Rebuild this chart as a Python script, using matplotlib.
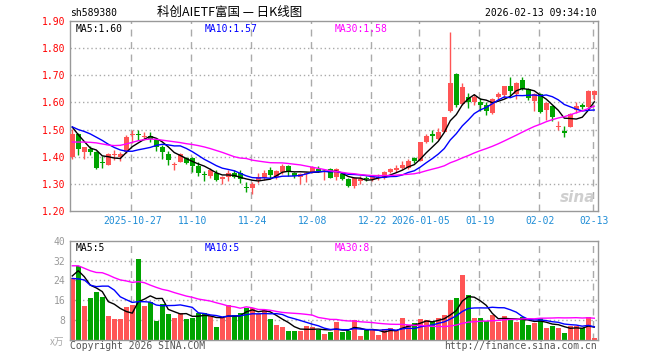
import numpy as np
import pandas as pd
import matplotlib
matplotlib.use('Agg')
import matplotlib.pyplot as plt

plt.rcParams['font.family'] = ['DejaVu Sans Mono', 'Noto Sans CJK SC']

# trading days 2025-10-13 .. 2026-02-13 (New Year closed 01-01, 01-02)
dates = pd.bdate_range('2025-10-13', '2026-02-13')
dates = dates[~dates.isin(pd.to_datetime(['2026-01-01', '2026-01-02']))]

tick_dates = ['2025-10-27', '2025-11-10', '2025-11-24', '2025-12-08', '2025-12-22',
              '2026-01-05', '2026-01-19', '2026-02-02', '2026-02-13']
tick_labels = ['2025-10-27', '11-10', '11-24', '12-08', '12-22',
               '2026-01-05', '01-19', '02-02', '02-13']

open_ = [1.398, 1.484, 1.419, 1.430, 1.419, 1.378, 1.370, 1.405, 1.400, 1.419,
         1.481, 1.483, 1.473, 1.477, 1.460, 1.437, 1.410, 1.369, 1.382, 1.395,
         1.395, 1.364, 1.335, 1.330, 1.341, 1.317, 1.327, 1.341, 1.341, 1.287,
         1.286, 1.314, 1.323, 1.352, 1.327, 1.345, 1.364, 1.341, 1.327, 1.335,
         1.345, 1.354, 1.343, 1.355, 1.327, 1.335, 1.318, 1.292, 1.311, 1.320,
         1.317, 1.322, 1.320, 1.345, 1.350, 1.358, 1.357, 1.396, 1.386, 1.455,
         1.482, 1.467, 1.492, 1.568, 1.706, 1.593, 1.621, 1.603, 1.603, 1.590,
         1.562, 1.620, 1.628, 1.659, 1.632, 1.681, 1.651, 1.604, 1.632, 1.571,
         1.588, 1.509, 1.493, 1.511, 1.573, 1.592, 1.583, 1.628]
close = [1.484, 1.427, 1.434, 1.419, 1.360, 1.376, 1.411, 1.410, 1.410, 1.471,
         1.483, 1.480, 1.477, 1.465, 1.434, 1.417, 1.388, 1.373, 1.411, 1.378,
         1.364, 1.341, 1.333, 1.352, 1.314, 1.324, 1.341, 1.324, 1.317, 1.285,
         1.300, 1.327, 1.341, 1.333, 1.346, 1.367, 1.345, 1.330, 1.335, 1.341,
         1.361, 1.349, 1.349, 1.323, 1.354, 1.318, 1.292, 1.323, 1.318, 1.317,
         1.325, 1.325, 1.343, 1.353, 1.360, 1.371, 1.386, 1.384, 1.454, 1.478,
         1.476, 1.492, 1.547, 1.670, 1.590, 1.658, 1.603, 1.621, 1.590, 1.570,
         1.611, 1.630, 1.659, 1.643, 1.672, 1.651, 1.616, 1.632, 1.563, 1.598,
         1.548, 1.514, 1.487, 1.557, 1.588, 1.582, 1.641, 1.643]
high = [1.502, 1.488, 1.437, 1.441, 1.421, 1.404, 1.412, 1.425, 1.419, 1.480,
        1.498, 1.498, 1.490, 1.490, 1.470, 1.445, 1.420, 1.380, 1.415, 1.400,
        1.400, 1.380, 1.348, 1.360, 1.350, 1.330, 1.350, 1.350, 1.350, 1.306,
        1.308, 1.340, 1.350, 1.363, 1.352, 1.375, 1.370, 1.345, 1.340, 1.345,
        1.364, 1.364, 1.352, 1.360, 1.360, 1.340, 1.320, 1.327, 1.330, 1.330,
        1.330, 1.335, 1.347, 1.360, 1.368, 1.385, 1.392, 1.400, 1.456, 1.482,
        1.500, 1.505, 1.548, 1.858, 1.708, 1.673, 1.636, 1.630, 1.615, 1.600,
        1.615, 1.640, 1.662, 1.692, 1.676, 1.692, 1.655, 1.636, 1.634, 1.600,
        1.592, 1.530, 1.514, 1.560, 1.600, 1.598, 1.645, 1.646]
low = [1.392, 1.407, 1.391, 1.405, 1.355, 1.358, 1.368, 1.388, 1.385, 1.415,
       1.452, 1.462, 1.462, 1.455, 1.420, 1.390, 1.370, 1.350, 1.380, 1.373,
       1.342, 1.330, 1.312, 1.320, 1.310, 1.300, 1.310, 1.320, 1.305, 1.271,
       1.263, 1.305, 1.315, 1.320, 1.318, 1.335, 1.330, 1.320, 1.300, 1.306,
       1.340, 1.345, 1.314, 1.320, 1.313, 1.313, 1.288, 1.285, 1.300, 1.310,
       1.312, 1.315, 1.318, 1.340, 1.345, 1.355, 1.354, 1.378, 1.384, 1.450,
       1.453, 1.463, 1.490, 1.565, 1.585, 1.590, 1.580, 1.592, 1.568, 1.555,
       1.558, 1.610, 1.617, 1.622, 1.613, 1.645, 1.610, 1.567, 1.560, 1.536,
       1.530, 1.499, 1.472, 1.508, 1.561, 1.575, 1.578, 1.610]
volume = [24.8, 29.9, 13.7, 17.0, 19.5, 17.4, 9.7, 8.5, 8.5, 13.3,
          14.1, 32.6, 13.7, 15.2, 7.8, 14.5, 10.5, 9.0, 10.7, 8.5,
          9.0, 10.7, 10.7, 9.7, 5.2, 8.7, 14.1, 10.1, 10.7, 13.0,
          12.8, 10.3, 12.1, 8.5, 6.0, 5.2, 3.6, 3.6, 3.6, 5.6,
          5.2, 4.0, 2.4, 3.2, 7.2, 3.2, 3.6, 8.1, 1.6, 4.0,
          4.0, 2.0, 4.4, 4.8, 3.6, 8.9, 6.0, 6.8, 8.5, 8.1,
          7.2, 8.9, 10.1, 16.1, 16.9, 26.2, 18.1, 8.9, 8.9, 7.7,
          10.1, 7.2, 9.7, 8.1, 7.2, 9.3, 6.0, 6.8, 8.9, 4.8,
          5.6, 4.8, 2.8, 5.6, 5.6, 4.8, 9.3, 0.8]

# moving-average values before a full window exists
ma5_head = [1.509, 1.481, 1.456, 1.432]
ma10_head = [1.510, 1.500, 1.493, 1.484, 1.472, 1.460, 1.446, 1.434, 1.425]
ma30_head = [1.454, 1.454, 1.454, 1.453, 1.451, 1.447, 1.443, 1.441, 1.442, 1.447,
             1.453, 1.459, 1.463, 1.465, 1.464, 1.461, 1.458, 1.455, 1.452, 1.448,
             1.445, 1.441, 1.436, 1.430, 1.423, 1.416, 1.408, 1.400, 1.395]
vma5_head = [25.8, 27.9, 25.5, 22.1]
vma10_head = [24.8, 24.6, 24.2, 22.1, 21.5, 21.7, 21.7, 20.1, 17.4]
vma30_head = [29.9, 29.9, 28.9, 27.9, 27.2, 27.1, 26.2, 25.1, 24.2, 23.8,
              23.2, 23.5, 23.1, 22.1, 21.2, 20.4, 19.9, 19.1, 18.4, 17.7,
              17.2, 16.5, 16.1, 15.7, 15.0, 14.4, 13.7, 13.4, 12.8]


def moving_avg(values, n, head):
    out = pd.Series(values).rolling(n).mean().to_numpy()
    out[:len(head)] = head
    return out


RED = '#ff5555'
GREEN = '#00a400'
GRID = '#aaaaaa'

o = np.array(open_)
c = np.array(close)
h = np.array(high)
l = np.array(low)
v = np.array(volume)
x = np.arange(len(c))
up = c >= o
cols = np.where(up, RED, GREEN)

fig = plt.figure(figsize=(6.6, 3.6), dpi=100)
W, H = 660, 360
ax = fig.add_axes([70 / W, 1 - 211 / H, 528 / W, 190 / H])
axv = fig.add_axes([70 / W, 1 - 340 / H, 528 / W, 99.3 / H])

tick_pos = dates.get_indexer(pd.to_datetime(tick_dates))
xlim = (-0.38, len(c) - 1 + 0.62)

for a in (ax, axv):
    a.set_xlim(*xlim)
    for s in a.spines.values():
        s.set_color('#999999')
        s.set_linewidth(1)
    for t in tick_pos:
        a.axvline(t - 0.27, color=GRID, lw=1, ls=(0, (5, 4)), zorder=0)
    a.tick_params(length=0)

# price panel
ax.set_ylim(1.20, 1.90)
for yv in [1.30, 1.40, 1.50, 1.60, 1.70, 1.80]:
    ax.axhline(yv, color=GRID, lw=1, ls=(0, (1, 2)), zorder=0)
ax.vlines(x, l, h, colors=cols, lw=1, zorder=2)
body = np.maximum(np.abs(c - o), 0.003)
ax.bar(x, body, bottom=np.minimum(o, c), width=0.8, color=cols, zorder=3)

ma5 = moving_avg(c, 5, ma5_head)
ma10 = moving_avg(c, 10, ma10_head)
ma30 = moving_avg(c, 30, ma30_head)
ax.plot(x, ma5, color='black', lw=1, zorder=4)
ax.plot(x, ma10, color='#0000ff', lw=1, zorder=4)
ax.plot(x, ma30, color='#ff00ff', lw=1, zorder=4)

ax.set_yticks(np.round(np.arange(1.20, 1.91, 0.10), 2))
ax.set_yticklabels(['%.2f' % t for t in np.arange(1.20, 1.91, 0.10)], color='#ff0000', fontsize=7)
ax.tick_params(axis='y', pad=3.5)
ax.set_xticks(tick_pos)
ax.set_xticklabels(tick_labels, color='#1f8dd6', fontsize=7)
ax.tick_params(axis='x', pad=3.5)

ax.text(0.01, 0.985, 'MA5:%.2f' % ma5[-1], transform=ax.transAxes, fontsize=7,
        color='black', va='top', ha='left')
ax.text((205 - 70) / 528, 0.985, 'MA10:%.2f' % ma10[-1], transform=ax.transAxes,
        fontsize=7, color='#0000ff', va='top', ha='left')
ax.text((335 - 70) / 528, 0.985, 'MA30:%.2f' % (np.floor(ma30[-1] * 100) / 100),
        transform=ax.transAxes, fontsize=7, color='#ff00ff', va='top', ha='left')
ax.text(0.995, 0.03, 'sina', transform=ax.transAxes, fontsize=11, color='#cfcfcf',
        style='italic', fontweight='bold', ha='right', va='bottom',
        family=['DejaVu Sans'], zorder=1)

# volume panel
axv.set_ylim(0, 40)
for yv in [8, 16, 24, 32]:
    axv.axhline(yv, color=GRID, lw=1, ls=(0, (1, 2)), zorder=0)
axv.bar(x, v, width=0.8, color=cols, zorder=2)
vma5 = moving_avg(v, 5, vma5_head)
vma10 = moving_avg(v, 10, vma10_head)
vma30 = moving_avg(v, 30, vma30_head)
axv.plot(x, vma5, color='black', lw=1, zorder=3)
axv.plot(x, vma10, color='#0000ff', lw=1, zorder=3)
axv.plot(x, vma30, color='#ff00ff', lw=1, zorder=3)
axv.set_yticks([8, 16, 24, 32, 40])
axv.set_yticklabels(['8', '16', '24', '32', '40'], color='#999999', fontsize=7)
axv.tick_params(axis='y', pad=3.5)
axv.set_xticks([])
axv.text(0.01, 0.975, 'MA5:%d' % vma5[-1], transform=axv.transAxes, fontsize=7,
         color='black', va='top', ha='left')
axv.text((205 - 70) / 528, 0.975, 'MA10:%d' % vma10[-1], transform=axv.transAxes,
         fontsize=7, color='#0000ff', va='top', ha='left')
axv.text((335 - 70) / 528, 0.975, 'MA30:%d' % vma30[-1], transform=axv.transAxes,
         fontsize=7, color='#ff00ff', va='top', ha='left')

# header and footer texts
fig.text(70 / W, 1 - 13 / H, 'sh589380', fontsize=7, color='black', va='center', ha='left')
fig.text(230 / W, 1 - 12 / H, '科创AIETF富国 — 日K线图', fontsize=9, color='black',
         va='center', ha='center', family=['Noto Sans CJK SC', 'DejaVu Sans'])
fig.text(597 / W, 1 - 13 / H, '2026-02-13 09:34:10', fontsize=7, color='black',
         va='center', ha='right')
fig.text(64 / W, 1 - 342 / H, 'x万', fontsize=7, color='#aaaaaa', va='center',
         ha='right', family=['Noto Sans CJK SC', 'DejaVu Sans'])
fig.text(70 / W, 1 - 346 / H, 'Copyright 2026 SINA.COM', fontsize=7, color='#555555',
         va='center', ha='left')
fig.text(597 / W, 1 - 346 / H, 'http://finance.sina.com.cn', fontsize=7, color='#555555',
         va='center', ha='right')

fig.savefig('out.png', dpi=100)
